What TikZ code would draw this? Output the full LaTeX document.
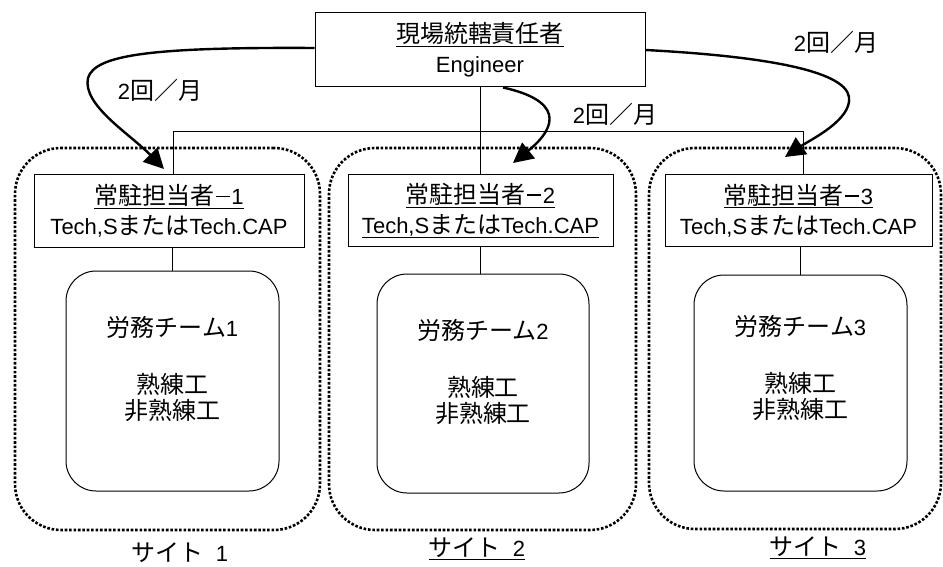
\documentclass[tikz,border=0pt]{standalone}
\usepackage{fontspec}
\setmainfont{Liberation Sans}
\newfontfamily\jp{Noto Sans CJK JP}[Scale=1.09]
\usetikzlibrary{arrows.meta,calc}
\newcommand{\myul}[1]{\setbox0\hbox{#1}\rlap{\rule[-4.2pt]{\wd0}{1.2pt}}\box0}
\newcommand{\dsh}{\kern1.5pt\rule[7.5pt]{14pt}{1.6pt}\kern1.5pt}
\tikzset{
  box/.style={draw, line width=1pt, rectangle, align=center, inner sep=0pt,
    font=\fontsize{22}{30}\selectfont},
  team/.style={draw, line width=1pt, rounded corners=30pt, inner sep=0pt},
  site/.style={draw, line width=2.6pt, dash pattern=on 2.6pt off 1.8pt,
    rounded corners=46pt, inner sep=0pt},
  txt/.style={align=center, inner sep=0pt, font=\fontsize{22}{26}\selectfont},
  conn/.style={line width=0.8pt},
  visit/.style={line width=2.4pt, -{Triangle[length=20pt,width=20pt]}},
}
\begin{document}
\begin{tikzpicture}[x=1pt,y=-1pt]
\useasboundingbox (0,0) rectangle (943,567);
% sites
\node[site, minimum width=305pt, minimum height=382pt] (s1) at (167.5,339) {};
\node[site, minimum width=307pt, minimum height=382pt] (s2) at (482.5,339) {};
\node[site, minimum width=292pt, minimum height=381pt] (s3) at (795,338.5) {};
% top
\node[box, minimum width=330pt, minimum height=74pt] (top) at (480,50)
  {\myul{\jp 現場統轄責任者}\\Engineer};
% resident boxes
\node[box, minimum width=270pt, minimum height=72pt] (b1) at (169,211)
  {\myul{{\jp 常駐担当者}\dsh 1}\\Tech,S{\jp または}Tech.CAP};
\node[box, minimum width=265pt, minimum height=71pt] (b2) at (480.5,210.5)
  {\myul{{\jp 常駐担当者}\dsh 2}\\\myul{Tech,S{\jp または}Tech.CAP}};
\node[box, minimum width=267pt, minimum height=71pt] (b3) at (798.5,210.5)
  {\myul{{\jp 常駐担当者}\dsh 3}\\Tech,S{\jp または}Tech.CAP};
% teams
\node[team, minimum width=213pt, minimum height=220pt] (t1) at (172.5,381) {};
\node[team, minimum width=212pt, minimum height=219pt] (t2) at (483,383.5) {};
\node[team, minimum width=213pt, minimum height=216pt] (t3) at (800.5,383) {};
\node[txt] (t1txt) at (172.5,369) {{\jp 労務チーム}1\\[31pt]{\jp 熟練工}\\{\jp 非熟練工}};
\node[txt] (t2txt) at (483,372) {{\jp 労務チーム}2\\[31pt]{\jp 熟練工}\\{\jp 非熟練工}};
\node[txt] (t3txt) at (800.5,368) {{\jp 労務チーム}3\\[31pt]{\jp 熟練工}\\{\jp 非熟練工}};
% site labels
\node[txt] (l1) at (180,553) {{\jp サイト}\ \ 1};
\node[txt] (l2) at (477,549) {\myul{{\jp サイト}\ \ 2}};
\node[txt] (l3) at (818,548) {\myul{{\jp サイト}\ \ 3}};
% connectors
\coordinate (busL) at (173,131);
\coordinate (busR) at (803,131);
\draw[conn] (top.south) -- (top.south |- b2.north);
\draw[conn] (busL |- b1.north) -- (busL) -- (busR) -- (busR |- b3.north);
\draw[conn] (t1.north) -- (t1.north |- b1.south);
\draw[conn] (b2.south) -- (b2.south |- t2.north);
\draw[conn] (t3.north) -- (t3.north |- b3.south);
% visit arrows
\coordinate (a1e) at (164,169);
\coordinate (a2e) at (513,163);
\coordinate (a3e) at (785,157);
\draw[visit] ($(top.west)+(0,-2)$) .. controls (150,47) and (95,55) .. (88,78)
  .. controls (82,105) and (130,134) .. (a1e);
\draw[visit] ($(top.south)+(23,0)$) .. controls (560,100) and (560,125) .. (a2e);
\draw[visit] (top.east) .. controls (760,56) and (845,70) .. (849,97)
  .. controls (852,120) and (810,140) .. (a3e);
% labels
\node[txt] (f1) at (160,90) {2{\jp 回／月}};
\node[txt] (f2) at (615,114) {2{\jp 回／月}};
\node[txt] (f3) at (836,42) {2{\jp 回／月}};
\end{tikzpicture}
\end{document}
